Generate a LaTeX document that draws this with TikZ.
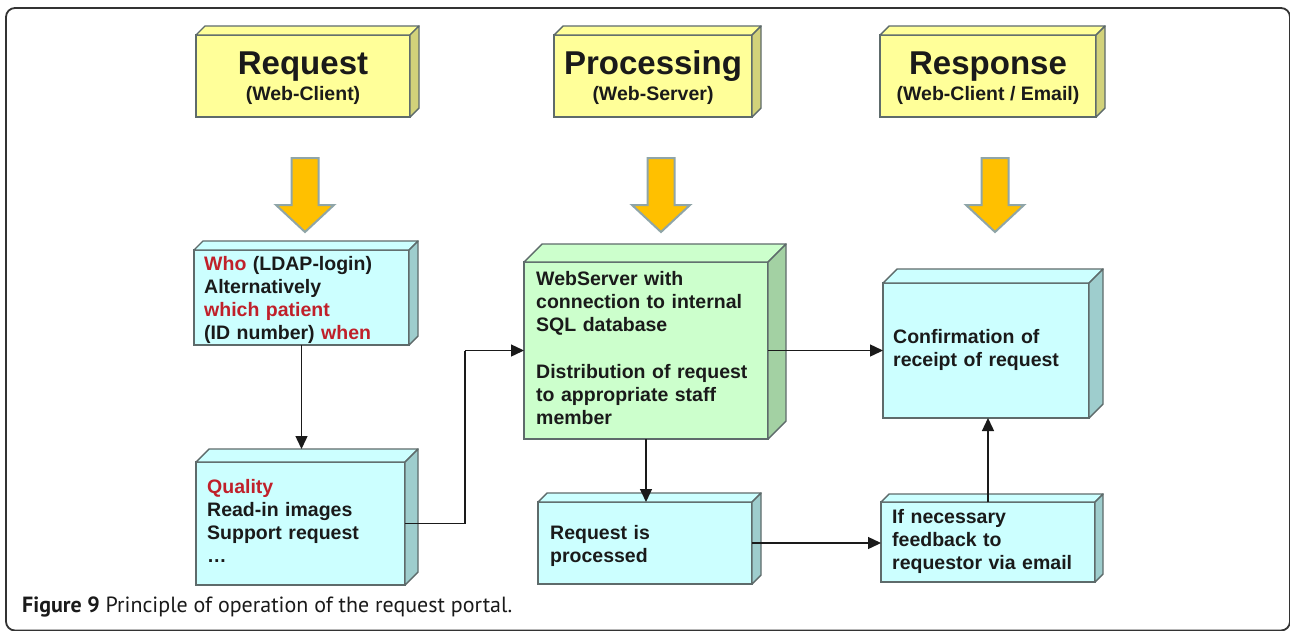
\documentclass[tikz,border=0pt]{standalone}
\usepackage{fontspec}
\usepackage{graphicx}
\setmainfont{Liberation Sans}
\newfontfamily\capfont{PT Sans}
\usetikzlibrary{arrows.meta,calc}

\definecolor{edge}{HTML}{5E6B6B}
\definecolor{ink}{HTML}{1A1A1A}
\definecolor{hot}{HTML}{C0202A}
\definecolor{cyanF}{HTML}{CCFFFF}
\definecolor{cyanS}{HTML}{9ECDCD}
\definecolor{greenF}{HTML}{CCFFCC}
\definecolor{greenS}{HTML}{A3D1A3}
\definecolor{yellowF}{HTML}{FFFF99}
\definecolor{yellowS}{HTML}{D2D27A}
\definecolor{amber}{HTML}{FFC000}
\definecolor{amberedge}{HTML}{8FA5A8}
\definecolor{frame}{HTML}{333333}

\tikzset{
  front/.style={draw=edge, line width=1.4pt, anchor=north west, inner sep=0pt, outer sep=0pt},
  face/.style={draw=edge, line width=1.4pt, line join=round},
  txt/.style={anchor=base west, inner sep=0pt, text width=#1, align=left,
              font=\fontsize{19.5}{23.3}\selectfont\bfseries, text=ink},
  head/.style={anchor=base, inner sep=0pt, font=\fontsize{33}{36}\selectfont\bfseries, text=ink},
  sub/.style={anchor=base, inner sep=0pt, font=\fontsize{19.5}{22}\selectfont\bfseries, text=ink},
  conn/.style={draw=ink, line width=1.4pt, -{Triangle[length=13pt,width=12pt]}},
  wire/.style={draw=ink, line width=1.4pt},
  bigarrow/.style={fill=amber, draw=amberedge, line width=2pt, line join=miter},
}

% top and right faces of a cuboid whose front face is node #1, depth #2
\newcommand\solidfaces[4]{%
  \filldraw[face, fill=#3] (#1.north west) -- ++(#2,-#2) -- ($(#1.north east)+(#2,-#2)$) -- (#1.north east) -- cycle;
  \filldraw[face, fill=#4] (#1.north east) -- ++(#2,-#2) -- ($(#1.south east)+(#2,-#2)$) -- (#1.south east) -- cycle;
}
% downward block arrow centred at x=#1
\newcommand\blockarrow[1]{%
  \filldraw[bigarrow] (#1-13.5,158) -- (#1+13.5,158) -- (#1+13.5,205) -- (#1+29,205)
    -- (#1,232) -- (#1-29,205) -- (#1-13.5,205) -- cycle;
}

\begin{document}
\begin{tikzpicture}[x=1pt, y=-1pt]
\useasboundingbox (0,0) rectangle (1290,630);
\fill[white] (0,0) rectangle (1290,630);
\draw[frame, line width=1.8pt, rounded corners=9pt] (6,8) rectangle (1290,630.5);

% column headers
\node[front, fill=yellowF, minimum width=214pt, minimum height=82pt] (hreq) at (196,35) {};
\solidfaces{hreq}{9}{yellowF}{yellowS}
\node[front, fill=yellowF, minimum width=198pt, minimum height=82pt] (hproc) at (554,35) {};
\solidfaces{hproc}{9}{yellowF}{yellowS}
\node[front, fill=yellowF, minimum width=216pt, minimum height=82pt] (hresp) at (880,35) {};
\solidfaces{hresp}{9}{yellowF}{yellowS}

\node[head] (hreq-t) at (303,74) {Request};
\node[sub]  (hreq-s) at (303,100) {(Web-Client)};
\node[head] (hproc-t) at (653,74) {Processing};
\node[sub]  (hproc-s) at (653,100) {(Web-Server)};
\node[head] (hresp-t) at (988,74) {Response};
\node[sub]  (hresp-s) at (988,100) {(Web-Client / Email)};

% block arrows under the headers
\blockarrow{305}
\blockarrow{661}
\blockarrow{995}

% process boxes
\node[front, fill=cyanF, minimum width=215pt, minimum height=95pt] (who) at (194,250) {};
\solidfaces{who}{9}{cyanF}{cyanS}
\node[front, fill=cyanF, minimum width=209pt, minimum height=123pt] (qual) at (196,462) {};
\solidfaces{qual}{13}{cyanF}{cyanS}
\node[front, fill=greenF, minimum width=244pt, minimum height=177pt] (web) at (524,262) {};
\solidfaces{web}{18}{greenF}{greenS}
\node[front, fill=cyanF, minimum width=206pt, minimum height=135pt] (conf) at (883,283) {};
\solidfaces{conf}{14}{cyanF}{cyanS}
\node[front, fill=cyanF, minimum width=214pt, minimum height=82pt] (proc) at (538,502) {};
\solidfaces{proc}{9}{cyanF}{cyanS}
\node[front, fill=cyanF, minimum width=214pt, minimum height=80pt] (fb) at (881,502) {};
\solidfaces{fb}{8}{cyanF}{cyanS}

% box texts
\node[txt=200pt] (who-t) at (204,270)
  {\textcolor{hot}{Who} (LDAP-login)\\Alternatively\\\textcolor{hot}{which patient}\\(ID number) \textcolor{hot}{when}};
\node[txt=190pt] (qual-t) at (207,493)
  {\textcolor{hot}{Quality}\\Read-in images\\Support request\\\dots};
\node[txt=230pt] (web-t) at (536,285)
  {WebServer with\\connection to internal\\SQL database\\[23.3pt]Distribution of request\\to appropriate staff\\member};
\node[txt=190pt] (conf-t) at (893,343) {Confirmation of\\receipt of request};
\node[txt=190pt] (proc-t) at (550,539) {Request is\\processed};
\node[txt=200pt] (fb-t) at (892,523) {If necessary\\feedback to\\requestor via email};

% connectors
\coordinate (qtop) at ($(qual.north)+(0,-13)$);
\draw[conn] (who.south) -- (who.south |- qtop);
\coordinate (bend) at (465,0);
\draw[wire] (qual.east) -| (bend |- web.west);
\draw[conn] (bend |- web.west) -- (web.west);
\draw[conn] (web.east) -- (conf.west);
\draw[conn] (web.south) -- (web.south |- proc.north);
\draw[conn] (proc.east) -- (proc.east -| fb.west);
\draw[conn] (fb.north) -- (fb.north |- conf.south);

% caption
\node[anchor=base west, inner sep=0pt, text=ink] (caption) at (22,612)
  {\resizebox{490pt}{!}{\capfont\fontsize{20}{24}\selectfont\textbf{Figure 9} Principle of operation of the request portal.}};
\end{tikzpicture}
\end{document}
